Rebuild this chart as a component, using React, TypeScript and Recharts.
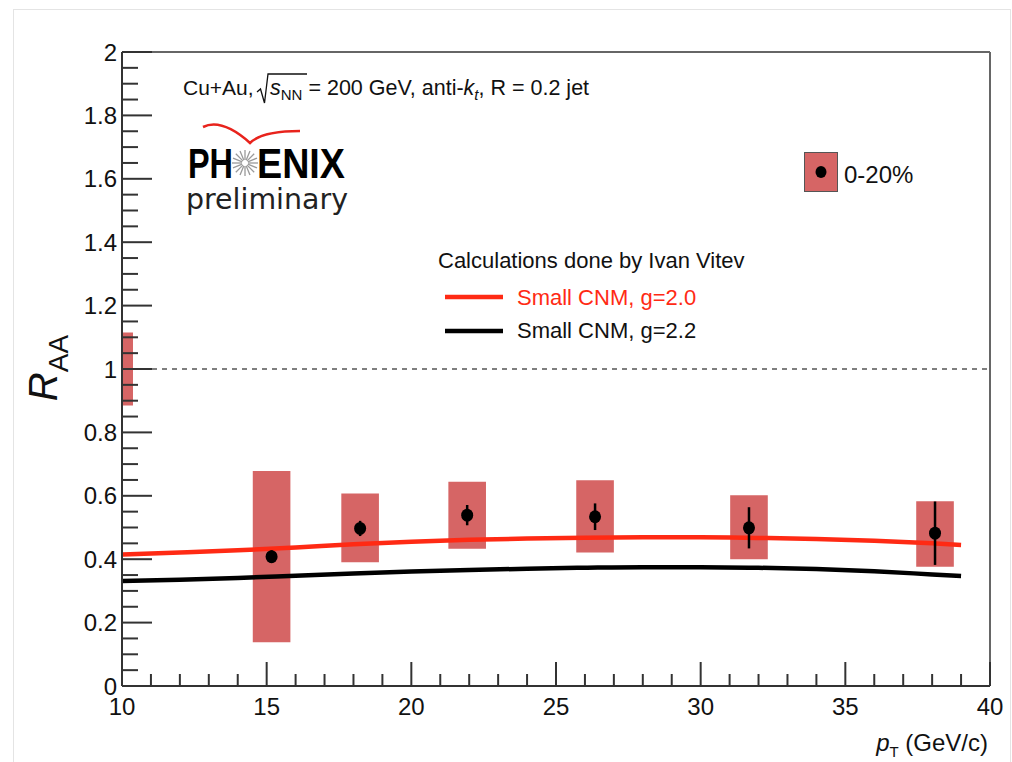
import { ComposedChart, XAxis, YAxis, Line, Scatter, ErrorBar, ReferenceArea, ReferenceLine } from 'recharts'

// measured jet R_AA, 0-20% centrality
const ptBins = [15.17, 18.23, 21.93, 26.35, 31.67, 38.1]
const raaValues = [0.408, 0.497, 0.539, 0.534, 0.499, 0.482]
const statErrors = [0.02, 0.024, 0.032, 0.042, 0.065, 0.1]
const sysHigh = [0.678, 0.607, 0.644, 0.649, 0.602, 0.583]
const sysLow = [0.138, 0.39, 0.433, 0.421, 0.4, 0.376]
const sysHalfWidth = 0.65

// global normalisation uncertainty drawn at R_AA = 1
const normUnc = 0.115
const normBoxWidth = 0.38

// theory curves (Vitev, small CNM)
const curvePt = [10, 12, 14, 16, 18, 20, 22, 24, 26, 28, 30, 32, 34, 36, 38, 39]
const g20Raa = [0.415, 0.421, 0.428, 0.437, 0.447, 0.455, 0.461, 0.465, 0.468, 0.469, 0.469, 0.467, 0.464, 0.458, 0.45, 0.445]
const g22Raa = [0.331, 0.335, 0.341, 0.348, 0.355, 0.361, 0.366, 0.37, 0.373, 0.375, 0.375, 0.373, 0.369, 0.362, 0.352, 0.347]

const xTickLabels = [10, 15, 20, 25, 30, 35, 40]
const yTickLabels = [0, 0.2, 0.4, 0.6, 0.8, 1, 1.2, 1.4, 1.6, 1.8, 2]

const xTicks: number[] = []
for (let v = 10; v <= 40; v++) xTicks.push(v)
const yTicks: number[] = []
for (let k = 0; k <= 40; k++) yTicks.push(Math.round(k * 5) / 100)

const points = ptBins.map((pt, i) => ({ pt, raa: raaValues[i], stat: statErrors[i] }))
const g20Curve = curvePt.map((pt, i) => ({ pt, raa: g20Raa[i] }))
const g22Curve = curvePt.map((pt, i) => ({ pt, raa: g22Raa[i] }))

const FONT = '"Liberation Sans", Arial, Helvetica, sans-serif'
const BOX = '#d66565'
const RED = '#ff2a14'
const AXIS = '#333'

const YTick = (props: any) => {
  const { x, y, payload } = props
  const v = payload.value
  const major = yTickLabels.some((t) => Math.abs(t - v) < 1e-6)
  const ax = x + 5
  return (
    <g>
      <line x1={ax} x2={ax + (major ? 30 : 16)} y1={y} y2={y} stroke={AXIS} strokeWidth={2} />
      {major && (
        <text x={x} y={y + 8.5} textAnchor="end" fontSize={24} fill="#111" fontFamily={FONT}>
          {String(v)}
        </text>
      )}
    </g>
  )
}

const XTick = (props: any) => {
  const { x, y, payload } = props
  const v = payload.value
  const major = xTickLabels.includes(v)
  return (
    <g>
      <line x1={x} x2={x} y1={y} y2={y - (major ? 24 : 12)} stroke={AXIS} strokeWidth={2} />
      {major && (
        <text x={x} y={y + 29} textAnchor="middle" fontSize={24} fill="#111" fontFamily={FONT}>
          {String(v)}
        </text>
      )}
    </g>
  )
}

const Dot = (props: any) => <ellipse cx={props.cx} cy={props.cy} rx={6} ry={6.5} fill="#000" />

const starRays = Array.from({ length: 16 }, (_, i) => (i * Math.PI) / 8)

export default function App() {
  return (
    <div style={{ position: 'absolute', left: 0, top: 0, width: 1012, height: 762, background: '#fff' }}>
      <ComposedChart width={1012} height={762} margin={{ top: 52, right: 22, bottom: 16, left: 62 }}>
        <XAxis
          type="number"
          dataKey="pt"
          domain={[10, 40]}
          ticks={xTicks}
          interval={0}
          allowDataOverflow
          height={60}
          tickSize={0}
          tickMargin={0}
          tickLine={false}
          axisLine={{ stroke: AXIS, strokeWidth: 2 }}
          tick={<XTick />}
        />
        <YAxis
          type="number"
          dataKey="raa"
          domain={[0, 2]}
          ticks={yTicks}
          interval={0}
          allowDataOverflow
          width={60}
          tickSize={0}
          tickMargin={5}
          tickLine={false}
          axisLine={{ stroke: AXIS, strokeWidth: 2 }}
          tick={<YTick />}
        />
        <ReferenceLine y={2} stroke="#666" strokeWidth={2} />
        <ReferenceLine x={40} stroke="#666" strokeWidth={2} />
        <ReferenceLine y={1} stroke="#000" strokeWidth={1.2} strokeDasharray="5 5" />
        <ReferenceArea
          x1={10}
          x2={10 + normBoxWidth}
          y1={1 - normUnc}
          y2={1 + normUnc}
          fill={BOX}
          fillOpacity={1}
          stroke="none"
          ifOverflow="visible"
        />
        {ptBins.map((pt, i) => (
          <ReferenceArea
            key={pt}
            x1={pt - sysHalfWidth}
            x2={pt + sysHalfWidth}
            y1={sysLow[i]}
            y2={sysHigh[i]}
            fill={BOX}
            fillOpacity={1}
            stroke="none"
            ifOverflow="visible"
          />
        ))}
        <Line data={g20Curve} dataKey="raa" type="monotone" stroke={RED} strokeWidth={4.5} dot={false} isAnimationActive={false} />
        <Line data={g22Curve} dataKey="raa" type="monotone" stroke="#000" strokeWidth={4.5} dot={false} isAnimationActive={false} />
        <Scatter data={points} dataKey="raa" shape={<Dot />} isAnimationActive={false}>
          <ErrorBar dataKey="stat" direction="y" width={0} stroke="#000" strokeWidth={2.5} isAnimationActive={false} />
        </Scatter>
      </ComposedChart>

      <svg width={1012} height={762} style={{ position: 'absolute', left: 0, top: 0, pointerEvents: 'none' }} fontFamily={FONT}>
        <rect x={13.5} y={9.5} width={997} height={770} fill="none" stroke="#e4e4e4" strokeWidth={1} />

        {/* collision system label */}
        <text x={183} y={95} fontSize={21} fill="#111">
          Cu+Au,
        </text>
        <path d="M257,92 L260.5,89 L264.5,103 L268,74 L307,74" fill="none" stroke="#111" strokeWidth={1.3} />
        <text x={270} y={95} fontSize={21.5} fill="#111">
          <tspan fontStyle="italic">s</tspan>
          <tspan fontSize={15} dy={5}>NN</tspan>
          <tspan dy={-5}> = 200 GeV, anti-</tspan>
          <tspan fontStyle="italic">k</tspan>
          <tspan fontStyle="italic" fontSize={15} dy={5}>t</tspan>
          <tspan dy={-5}>, R = 0.2 jet</tspan>
        </text>

        {/* experiment logo */}
        <path d="M203,127 Q222,118 250,143 Q262,131 300,131" fill="none" stroke="#e8231c" strokeWidth={2.5} />
        <text x={188} y={178} fontSize={42} fontWeight="bold" fill="#000" textLength={45} lengthAdjust="spacingAndGlyphs">
          PH
        </text>
        {starRays.map((a, i) => (
          <line
            key={i}
            x1={245 + 3 * Math.cos(a)}
            y1={163 + 3 * Math.sin(a)}
            x2={245 + 13 * Math.cos(a)}
            y2={163 + 13 * Math.sin(a)}
            stroke="#9a9a9a"
            strokeWidth={1.3}
          />
        ))}
        <text x={257} y={178} fontSize={42} fontWeight="bold" fill="#000" textLength={88} lengthAdjust="spacingAndGlyphs">
          ENIX
        </text>
        <text x={186} y={209} fontSize={29} fill="#222" fontFamily='"DejaVu Sans", sans-serif' textLength={162} lengthAdjust="spacingAndGlyphs">
          preliminary
        </text>

        {/* data legend */}
        <rect x={804.5} y={152.5} width={33} height={39} fill={BOX} stroke="#555" strokeWidth={1} />
        <ellipse cx={821} cy={172} rx={5.5} ry={6} fill="#000" />
        <text x={844} y={183} fontSize={24} fill="#111">
          0-20%
        </text>

        {/* theory legend */}
        <text x={438} y={268} fontSize={22} fill="#111">
          Calculations done by Ivan Vitev
        </text>
        <line x1={445} x2={503} y1={297} y2={297} stroke={RED} strokeWidth={4.5} />
        <text x={517} y={305} fontSize={22} fill={RED}>
          Small CNM, g=2.0
        </text>
        <line x1={445} x2={503} y1={331} y2={331} stroke="#000" strokeWidth={4.5} />
        <text x={517} y={338} fontSize={22} fill="#111">
          Small CNM, g=2.2
        </text>

        {/* axis titles */}
        <text transform="translate(57,368) rotate(-90)" textAnchor="middle" fill="#111">
          <tspan fontSize={40} fontStyle="italic">R</tspan>
          <tspan fontSize={28} dy={11}>AA</tspan>
        </text>
        <text x={988} y={751} textAnchor="end" fontSize={24} fill="#111">
          <tspan fontStyle="italic">p</tspan>
          <tspan fontSize={15} dy={6}>T</tspan>
          <tspan dy={-6}> (GeV/c)</tspan>
        </text>
      </svg>
    </div>
  )
}
